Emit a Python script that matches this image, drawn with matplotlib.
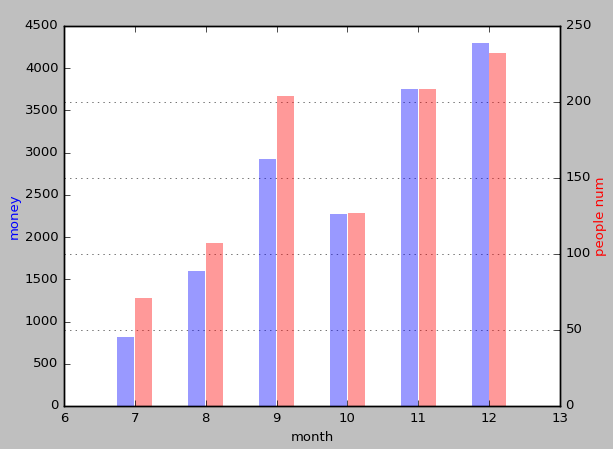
import numpy as np
import matplotlib
matplotlib.use("Agg")
import matplotlib.pyplot as plt

plt.style.use("classic")

months = [7, 8, 9, 10, 11, 12]
money = [820, 1600, 2920, 2270, 3750, 4300]
people = [71, 107, 204, 127, 208.5, 232]

x = np.array(months)
fig = plt.figure(figsize=(6.13, 4.49), dpi=100)
ax = fig.add_axes([0.1044, 0.0958, 0.8091, 0.8463])
ax2 = ax.twinx()

# blue bars on top axes, red bars + grid on the twin underneath
ax.set_zorder(ax2.get_zorder() + 1)
ax.patch.set_visible(False)
ax2.patch.set_visible(True)
ax2.patch.set_facecolor("white")

ax.bar(x - 0.125, money, width=0.24, color="blue", alpha=0.4, edgecolor="none")
ax2.bar(x + 0.125, people, width=0.24, color="red", alpha=0.4, edgecolor="none")

ax.set_xlim(6, 13)
ax.set_ylim(0, 4500)
ax2.set_ylim(0, 250)
ax2.set_axisbelow(True)
ax2.grid(True, axis="y", color="0.35", linewidth=0.6)

fs = 9.5
ax.tick_params(labelsize=fs)
ax2.tick_params(labelsize=fs)
ax.set_xlabel("month", fontsize=fs)
ax.set_ylabel("money", color="blue", fontsize=fs, labelpad=3)
ax2.set_ylabel("people num", color="red", fontsize=fs, labelpad=2)

fig.savefig("out.png", dpi=100, facecolor=fig.get_facecolor())
